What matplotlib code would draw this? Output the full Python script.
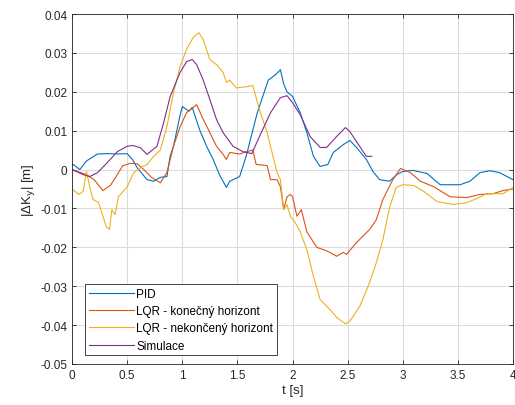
import matplotlib
matplotlib.use("Agg")
import matplotlib.pyplot as plt

plt.rcParams['font.family'] = ['Liberation Sans', 'DejaVu Sans']

# PID
t_pid = [0.0, 0.01, 0.07, 0.13, 0.23, 0.32, 0.41, 0.50, 0.55, 0.59, 0.68, 0.74, 0.80, 0.86,
         0.89, 0.92, 0.98, 1.00, 1.06, 1.09, 1.16, 1.22, 1.28, 1.34, 1.40, 1.43, 1.52, 1.58,
         1.68, 1.78, 1.85, 1.89, 1.92, 1.95, 2.00, 2.07, 2.13, 2.19, 2.25, 2.32, 2.37, 2.46,
         2.52, 2.58, 2.67, 2.73, 2.79, 2.88, 2.95, 3.00, 3.09, 3.22, 3.34, 3.52, 3.61, 3.70,
         3.79, 3.88, 4.0]
y_pid = [0.0012, 0.0013, 0.0, 0.0022, 0.0040, 0.0041, 0.0040, 0.0041, 0.0025, 0.0005, -0.0026,
         -0.0030, -0.0020, -0.0018, 0.0035, 0.0060, 0.0140, 0.0162, 0.0150, 0.0160, 0.0100,
         0.0060, 0.0026, -0.0015, -0.0046, -0.0030, -0.0018, 0.0035, 0.0146, 0.0230, 0.0245,
         0.0257, 0.0220, 0.0200, 0.0188, 0.0146, 0.0095, 0.0034, 0.0008, 0.0013, 0.0044,
         0.0064, 0.0075, 0.0057, 0.0026, -0.0005, -0.0026, -0.0030, -0.0012, -0.0005, -0.0002,
         -0.0010, -0.0039, -0.0039, -0.0030, -0.0008, -0.0003, -0.0008, -0.0026]

# LQR - konecny horizont
t_lqr1 = [0.0, 0.13, 0.20, 0.28, 0.35, 0.41, 0.46, 0.53, 0.59, 0.65, 0.72, 0.80, 0.86, 0.92,
          0.98, 1.04, 1.08, 1.13, 1.19, 1.25, 1.31, 1.37, 1.40, 1.43, 1.52, 1.58, 1.64, 1.67,
          1.72, 1.77, 1.80, 1.86, 1.89, 1.92, 1.95, 1.98, 2.00, 2.04, 2.08, 2.13, 2.22, 2.30,
          2.34, 2.40, 2.46, 2.49, 2.58, 2.70, 2.76, 2.82, 2.91, 2.98, 3.07, 3.16, 3.28, 3.43,
          3.58, 3.70, 3.82, 3.91, 4.0]
y_lqr1 = [0.0, -0.0013, -0.0026, -0.0054, -0.0040, -0.0013, 0.0010, 0.0016, 0.0015, 0.0,
          -0.0020, -0.0034, -0.0008, 0.0060, 0.0110, 0.0147, 0.0155, 0.0167, 0.0129, 0.0095,
          0.0060, 0.0039, 0.0026, 0.0044, 0.0040, 0.0046, 0.0050, 0.0013, 0.0012, 0.0010,
          -0.0026, -0.0026, -0.0044, -0.0103, -0.0070, -0.0064, -0.0070, -0.0120, -0.0103,
          -0.0160, -0.0200, -0.0208, -0.0213, -0.0223, -0.0213, -0.0218, -0.0188, -0.0154,
          -0.0129, -0.0077, -0.0026, 0.0003, -0.0008, -0.0030, -0.0044, -0.0070, -0.0072,
          -0.0064, -0.0062, -0.0054, -0.0050]

# LQR - nekonecny horizont
t_lqr2 = [0.0, 0.06, 0.10, 0.13, 0.16, 0.19, 0.24, 0.28, 0.31, 0.34, 0.36, 0.39, 0.42, 0.50,
          0.56, 0.62, 0.68, 0.74, 0.80, 0.86, 0.92, 0.98, 1.04, 1.10, 1.15, 1.19, 1.25, 1.31,
          1.37, 1.40, 1.43, 1.49, 1.58, 1.64, 1.70, 1.77, 1.80, 1.86, 1.89, 1.92, 1.95, 1.98,
          2.02, 2.07, 2.13, 2.19, 2.25, 2.34, 2.40, 2.48, 2.52, 2.61, 2.70, 2.76, 2.82, 2.88,
          2.94, 3.00, 3.10, 3.19, 3.31, 3.46, 3.58, 3.67, 3.76, 3.91, 4.0]
y_lqr2 = [-0.0050, -0.0064, -0.0056, -0.0005, -0.0044, -0.0077, -0.0085, -0.0120, -0.0147,
          -0.0154, -0.0103, -0.0116, -0.0070, -0.0044, -0.0008, 0.0005, 0.0013, 0.0034, 0.0050,
          0.0110, 0.0198, 0.0265, 0.0310, 0.0340, 0.0352, 0.0334, 0.0283, 0.0270, 0.0250,
          0.0224, 0.0230, 0.0210, 0.0213, 0.0216, 0.0154, 0.0095, 0.0060, -0.0008, -0.0026,
          -0.0103, -0.0090, -0.0120, -0.0134, -0.0160, -0.0206, -0.0275, -0.0334, -0.0360,
          -0.0380, -0.0397, -0.0390, -0.0352, -0.0290, -0.0240, -0.0180, -0.0098, -0.0046,
          -0.0039, -0.0041, -0.0056, -0.0082, -0.0090, -0.0085, -0.0075, -0.0062, -0.0062,
          -0.0046]

# Simulace
t_sim = [0.0, 0.10, 0.16, 0.23, 0.32, 0.41, 0.50, 0.55, 0.62, 0.68, 0.77, 0.83, 0.89, 0.98,
         1.04, 1.09, 1.13, 1.19, 1.25, 1.31, 1.37, 1.46, 1.55, 1.63, 1.70, 1.80, 1.89, 1.95,
         2.00, 2.07, 2.16, 2.25, 2.31, 2.40, 2.48, 2.52, 2.58, 2.67, 2.72]
y_sim = [0.0, -0.0013, -0.0018, -0.0008, 0.0018, 0.0046, 0.0060, 0.0062, 0.0056, 0.0039,
         0.0060, 0.0120, 0.0188, 0.0250, 0.0278, 0.0283, 0.0270, 0.0230, 0.0180, 0.0129,
         0.0095, 0.0060, 0.0046, 0.0041, 0.0085, 0.0146, 0.0185, 0.0190, 0.0172, 0.0141,
         0.0085, 0.0057, 0.0057, 0.0085, 0.0108, 0.0098, 0.0072, 0.0034, 0.0034]

fig = plt.figure(figsize=(5.15, 4.06), dpi=100)
ax = fig.add_axes([0.14, 0.101, 0.856, 0.862])

ax.plot(t_pid, y_pid, color='#0072BD', lw=0.8, label='PID')
ax.plot(t_lqr1, y_lqr1, color='#D95319', lw=0.8, label='LQR - konečný horizont')
ax.plot(t_lqr2, y_lqr2, color='#EDB120', lw=0.8, label='LQR - nekončený horizont')
ax.plot(t_sim, y_sim, color='#7E2F8E', lw=0.8, label='Simulace')

ax.set_xlim(0, 4)
ax.set_ylim(-0.05, 0.04)
ax.set_xticks([0, 0.5, 1, 1.5, 2, 2.5, 3, 3.5, 4])
ax.set_xticklabels(['0', '0.5', '1', '1.5', '2', '2.5', '3', '3.5', '4'])
ax.set_yticks([-0.05, -0.04, -0.03, -0.02, -0.01, 0, 0.01, 0.02, 0.03, 0.04])
ax.set_yticklabels(['-0.05', '-0.04', '-0.03', '-0.02', '-0.01', '0',
                    '0.01', '0.02', '0.03', '0.04'])
ax.grid(True, color='#dcdcdc', lw=0.8)
ax.set_axisbelow(True)
ax.tick_params(direction='in', top=True, right=True, labelsize=8.5, colors='#262626',
               length=3, width=0.6)
for s in ax.spines.values():
    s.set_color('#262626')
    s.set_linewidth(0.6)

ax.set_xlabel('t [s]', fontsize=9.5, color='#262626', labelpad=2)
ax.set_ylabel('|ΔK$_\\mathrm{y}$| [m]', fontsize=9.5, color='#262626', labelpad=2)

leg = ax.legend(loc='lower left', bbox_to_anchor=(0.03, 0.025), fontsize=8.5,
                fancybox=False, edgecolor='#262626', framealpha=1,
                handlelength=3.8, handletextpad=0.2, labelspacing=0.45,
                borderpad=0.3, borderaxespad=0)
leg.get_frame().set_linewidth(0.6)

fig.savefig('out.png', dpi=100)
